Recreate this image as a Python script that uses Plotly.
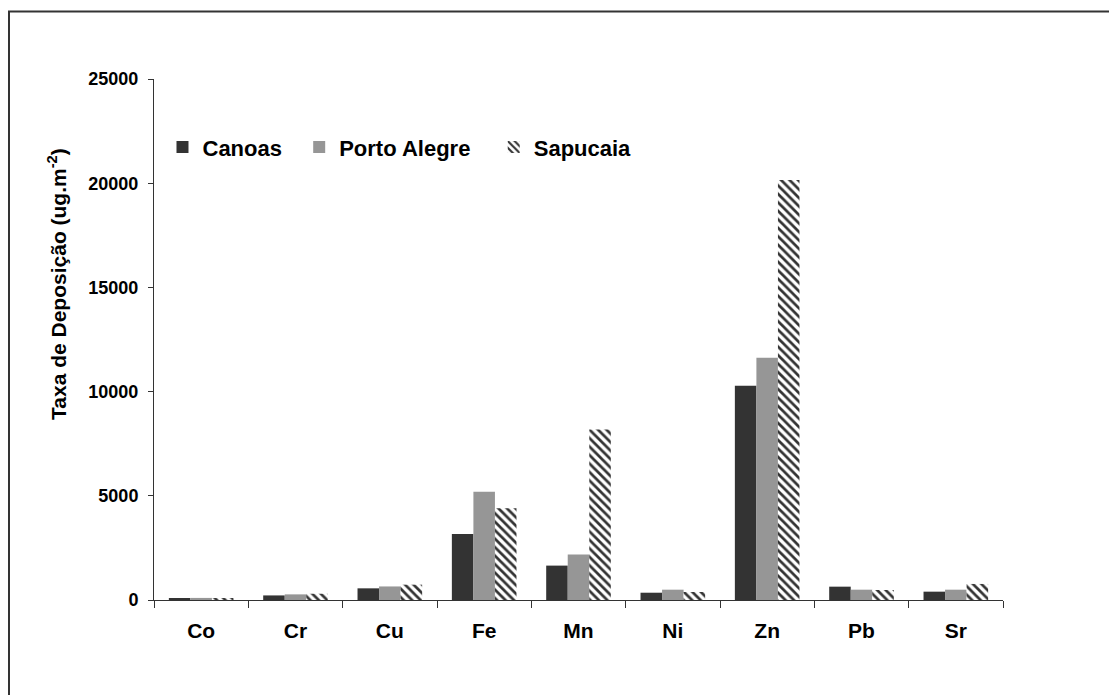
import plotly.graph_objects as go

# Elementos e taxas de deposição (ug.m-2)
elements = ["Co", "Cr", "Cu", "Fe", "Mn", "Ni", "Zn", "Pb", "Sr"]
canoas = [50, 220, 560, 3170, 1650, 350, 10280, 640, 400]
porto_alegre = [100, 270, 650, 5190, 2180, 495, 11630, 495, 495]
sapucaia = [80, 300, 735, 4400, 8180, 385, 20150, 480, 770]

FONT = "Liberation Sans, Arial, sans-serif"
NBSP = "\u00a0"

fig = go.Figure()

# nomes com espaços extras para afastar os itens da legenda
fig.add_trace(go.Bar(
    x=elements, y=canoas, name="Canoas" + NBSP * 2,
    marker=dict(color="#333333", line=dict(width=0)),
))
fig.add_trace(go.Bar(
    x=elements, y=porto_alegre, name="Porto Alegre" + NBSP * 3,
    marker=dict(color="#969696", line=dict(width=0)),
))
fig.add_trace(go.Bar(
    x=elements, y=sapucaia, name="Sapucaia",
    marker=dict(
        color="white", line=dict(width=0),
        pattern=dict(shape="\\", fgcolor="#333333", bgcolor="white",
                     size=6, solidity=0.45, fillmode="replace"),
    ),
))

# a página tem margem de 8px no body, por isso 1109x687
fig.update_layout(
    width=1109, height=687,
    margin=dict(l=146, r=114, t=71, b=95),
    paper_bgcolor="white", plot_bgcolor="white",
    barmode="group", bargap=0.315, bargroupgap=0,
    font=dict(family=FONT, color="black"),
    legend=dict(
        orientation="h", x=0.01, y=0.869, xanchor="left", yanchor="middle",
        font=dict(family=FONT, size=22, weight="bold"),
        bgcolor="rgba(0,0,0,0)", itemwidth=30,
    ),
    showlegend=True,
)

fig.update_xaxes(
    showline=True, linecolor="#333333", linewidth=1,
    ticks="outside", tickson="boundaries", ticklen=7, tickcolor="#333333",
    tickfont=dict(family=FONT, size=21, weight="bold"),
    ticklabelstandoff=12,
    showgrid=False, zeroline=False,
)
fig.update_yaxes(
    range=[0, 25000], dtick=5000, tickformat="d",
    showline=True, linecolor="#333333", linewidth=1,
    ticks="outside", ticklen=5, tickcolor="#333333",
    tickfont=dict(family=FONT, size=18, weight="bold"),
    ticklabelstandoff=6,
    showgrid=False, zeroline=False,
)

# Título do eixo Y
fig.add_annotation(
    text="Taxa de Deposição (ug.m<sup>-2</sup>)",
    xref="paper", yref="paper", x=-0.114, y=0.607,
    xanchor="center", yanchor="middle", textangle=-90, showarrow=False,
    font=dict(family=FONT, size=21, weight="bold"),
)

# Moldura externa
fig.add_shape(
    type="rect", xref="paper", yref="paper",
    x0=-0.1708, x1=1.3, y0=-0.3, y1=1.1296,
    line=dict(color="#333333", width=2),
)

fig.write_html("out.html")
